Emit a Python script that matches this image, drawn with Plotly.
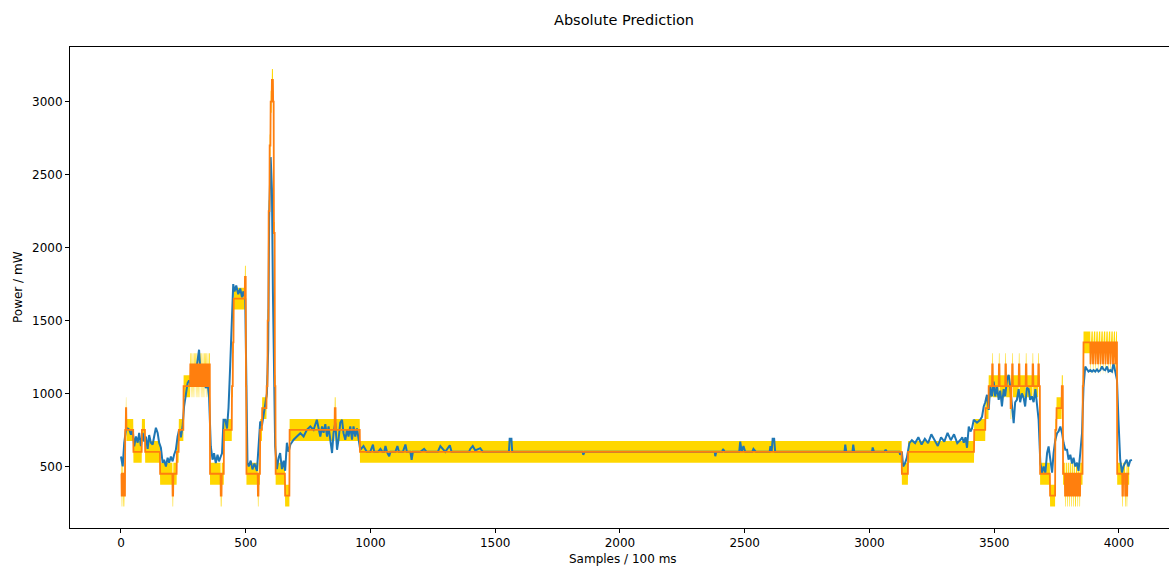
import numpy as np
import plotly.graph_objects as go

# ---------------- data ----------------
# Quantised prediction: run starts (sample index) and level (mW)
PRED_STARTS = [0, 3, 6, 9, 12, 15, 17, 20, 22, 50, 84, 97, 157, 207, 210, 224, 232, 251,
               278, 281, 283, 286, 288, 291, 293, 296, 298, 301, 303, 306, 308, 311, 313, 316,
               318, 321, 323, 326, 328, 331, 333, 336, 338, 341, 343, 346, 348, 351, 353,
               357, 400, 404, 413, 445, 449, 452, 497, 501, 503, 549, 552, 558, 566,
               584, 588, 592, 596, 600, 605, 610, 613, 617, 620, 658, 676, 857, 861, 958,
               3130, 3155, 3420, 3465, 3478,
               3492, 3495, 3519, 3522, 3545, 3548, 3566, 3569, 3572, 3575, 3599, 3602, 3627, 3630,
               3654, 3657, 3677, 3680,
               3684, 3724, 3745, 3750, 3771, 3776,
               3784, 3787, 3792, 3795, 3800, 3803, 3808, 3811, 3816, 3819, 3824, 3828, 3834, 3837,
               3842, 3845, 3855, 3858,
               3886, 3887, 3896, 3897, 3906, 3907, 3916, 3917, 3926, 3927, 3936, 3937, 3946, 3947,
               3956, 3957, 3966, 3967, 3976, 3977, 3985, 3986,
               3993, 4014, 4017, 4025, 4028, 4031, 4034]
PRED_LEVELS = [450, 300, 450, 300, 450, 300, 750, 900, 750, 600, 750, 600, 450, 300, 450, 600, 750, 1050,
               1200, 1050, 1200, 1050, 1200, 1050, 1200, 1050, 1200, 1050, 1200, 1050, 1200, 1050, 1200, 1050,
               1200, 1050, 1200, 1050, 1200, 1050, 1200, 1050, 1200, 1050, 1200, 1050, 1200, 1050, 1200,
               450, 300, 450, 750, 1050, 1350, 1650, 1800, 1050, 450, 300, 450, 750, 900,
               1050, 1500, 2250, 2700, 3000, 3150, 3000, 2100, 1050, 450, 300, 750, 900, 750, 600,
               450, 600, 750, 900, 1050,
               1200, 1050, 1200, 1050, 1200, 1050, 900, 1050, 1200, 1050, 1200, 1050, 1200, 1050,
               1200, 1050, 1200, 1050,
               450, 300, 750, 900, 1050, 450,
               300, 450, 300, 450, 300, 450, 300, 450, 300, 450, 300, 450, 300, 450,
               300, 450, 1050, 1350,
               1200, 1350, 1200, 1350, 1200, 1350, 1200, 1350, 1200, 1350, 1200, 1350, 1200, 1350,
               1200, 1350, 1200, 1350, 1200, 1350, 1200, 1350,
               450, 300, 450, 300, 450, 300, 450]
PRED_END = 4042
BAND_HALF = 75  # mW, half-width of the tolerance band

# Measured power (sample index, mW)
ACTUAL_X = [0, 7, 13, 20, 27, 33, 40, 47, 53, 60, 67, 73, 80, 87, 93, 100, 107, 113, 120, 127,
            133, 140, 147, 153, 160, 167, 173, 180, 187, 193, 200, 207, 213, 220, 227, 233, 240,
            247, 253, 260, 267, 273, 280, 287, 293, 300, 307, 313, 317, 327, 333, 340, 347, 353,
            360, 367, 373, 380, 387, 393, 400, 405, 411, 418, 425, 431, 438, 445, 450, 455, 462,
            470, 478, 485, 491, 498, 503, 507, 512, 520, 527, 535, 545, 552, 558, 565, 572, 578,
            585, 590, 594, 600, 605, 609, 613, 618, 625, 632, 638, 645, 652, 658, 665, 672, 679,
            692, 705, 719, 732, 745, 759, 772, 785, 792, 799, 806, 812, 819, 826, 832, 839, 846,
            852, 859, 866, 872, 879, 886, 892, 899, 906, 912, 919, 926, 932, 939, 946, 952, 959,
            972, 985, 999,
            1010, 1015, 1030, 1040, 1048, 1055, 1060, 1066, 1075, 1080, 1100, 1108, 1114, 1130,
            1140, 1146, 1160, 1165, 1170, 1200, 1215, 1225, 1270, 1280, 1290, 1300, 1318, 1325,
            1395, 1400, 1410, 1420, 1440, 1450, 1555, 1558, 1565, 1568, 1850, 1853, 1858, 2380,
            2382, 2386, 2410, 2413, 2420, 2478, 2482, 2488, 2495, 2502, 2530, 2535, 2545, 2600,
            2603, 2608, 2612, 2618, 2622, 2900, 2903, 2907, 2932, 2935, 2939, 3010, 3013, 3018,
            3060, 3065, 3070, 3120, 3123, 3130, 3135, 3142, 3150, 3160,
            3170, 3183, 3196, 3209, 3222, 3235, 3248, 3261, 3274, 3287, 3300, 3313, 3326, 3339,
            3352, 3365, 3372, 3378, 3385, 3391, 3398, 3405, 3411, 3418,
            3431, 3444, 3451, 3458, 3464, 3471, 3478, 3484, 3491, 3498, 3504, 3511, 3518, 3524,
            3531, 3538, 3544, 3551, 3558, 3564, 3571, 3578, 3584, 3591, 3598, 3604, 3611, 3618,
            3624, 3631, 3638, 3644, 3651, 3658, 3665, 3671, 3678,
            3685, 3692, 3698, 3705, 3712, 3718, 3725, 3732, 3738, 3745, 3752, 3758, 3765, 3772,
            3778, 3785, 3792, 3798, 3805, 3812, 3818, 3825, 3832, 3838, 3845, 3852, 3858, 3865,
            3872, 3878, 3885, 3892, 3898, 3905, 3912, 3918, 3925, 3932, 3938, 3945, 3952, 3958,
            3965, 3972, 3978, 3985, 3992, 3998, 4005, 4012, 4018, 4025, 4031, 4038, 4045, 4052]
ACTUAL_Y = [568, 500, 662, 751, 760, 753, 717, 751, 637, 705, 663, 730, 640, 730, 671, 705, 620, 715, 663, 650,
            705, 765, 730, 663, 628, 525, 545, 500, 560, 525, 568, 535, 580, 614, 705, 750, 700,
            774, 911, 1003, 1071, 1090, 1060, 1071, 1071, 1140, 1231, 1300, 1190, 1071, 1090, 1037, 1071, 980,
            637, 546, 590, 523, 580, 535, 568, 590, 820, 820, 760, 900, 1200, 1600, 1750, 1700, 1740,
            1680, 1720, 1660, 1700, 1650, 900, 525, 500, 540, 480, 520, 470, 637, 808, 780, 850, 900,
            1000, 1300, 2200, 2620, 2400, 1700, 1000, 637, 482, 560, 592, 482, 540, 470, 662, 600, 650,
            683, 705, 728, 705, 751, 774, 751, 820, 751, 705, 774, 730, 790, 705, 774, 660, 592,
            728, 800, 614, 683, 800, 820, 728, 683, 751, 705, 774, 683, 774, 705, 760, 683, 614,
            640, 600, 600,
            650, 600, 600, 620, 600, 600, 640, 600, 570, 600, 600, 640, 600, 600,
            650, 600, 600, 546, 600, 600, 620, 600, 600, 640, 620, 600, 645, 600,
            600, 620, 640, 610, 625, 600, 600, 690, 690, 600, 600, 580, 600, 600,
            570, 600, 600, 620, 600, 600, 670, 600, 640, 600, 600, 620, 600, 600,
            640, 600, 690, 690, 600, 600, 650, 600, 600, 650, 600, 600, 630, 600,
            600, 615, 600, 600, 580, 600, 500, 520, 560, 660,
            680, 660, 700, 650, 690, 660, 720, 680, 640, 700, 670, 730, 680, 720,
            660, 683, 700, 662, 700, 628, 774, 740, 760, 820,
            800, 820, 840, 911, 940, 991, 888, 1048, 980, 1082, 980, 1048, 957, 1020,
            911, 1030, 980, 1094, 1128, 1048, 911, 797, 940, 957, 1030, 940, 1000, 970,
            911, 1040, 1030, 957, 980, 940, 1030, 911, 820,
            520, 457, 500, 457, 592, 637, 546, 457, 592, 683, 728, 740, 774, 728,
            662, 614, 614, 546, 580, 520, 560, 500, 525, 470, 592, 728, 1048, 1185,
            1165, 1150, 1160, 1150, 1160, 1150, 1165, 1150, 1160, 1185, 1165, 1160, 1185, 1150,
            1160, 1150, 1208, 1150, 1094, 820, 546, 457, 500, 525, 546, 500, 540, 545]

X_TICKS = [0, 500, 1000, 1500, 2000, 2500, 3000, 3500, 4000]
Y_TICKS = [500, 1000, 1500, 2000, 2500, 3000]
TITLE = "Absolute Prediction"
X_LABEL = "Samples / 100 ms"
Y_LABEL = "Power / mW"

# ---------------- build series ----------------
starts = np.array(PRED_STARTS)
runs = np.diff(np.append(starts, PRED_END))
pred = np.repeat(np.array(PRED_LEVELS, dtype=float), runs)
xs = np.arange(len(pred))

fig = go.Figure()
fig.add_trace(go.Scatter(x=xs, y=pred - BAND_HALF, mode="lines",
                         line=dict(width=0, color="gold"), hoverinfo="skip", showlegend=False))
fig.add_trace(go.Scatter(x=xs, y=pred + BAND_HALF, mode="lines", fill="tonexty",
                         fillcolor="#FFD700", line=dict(width=0, color="gold"),
                         hoverinfo="skip", showlegend=False))
fig.add_trace(go.Scatter(x=ACTUAL_X, y=ACTUAL_Y, mode="lines",
                         line=dict(color="#1f77b4", width=2), showlegend=False))
fig.add_trace(go.Scatter(x=xs, y=pred, mode="lines",
                         line=dict(color="#ff7f0e", width=1.8), showlegend=False))

W, H = 1169, 567
L, R, T, B = 70, 0, 47, 39
pw, ph = W - L - R, H - T - B


def px2paper(px, py):
    return (px - L) / pw, (H - B - py) / ph


font = dict(family="DejaVu Sans", size=12, color="black")
tx, ty = px2paper(624, 20)
lx, ly = px2paper(623, 559)
yx, yy = px2paper(18, 287)

fig.update_layout(
    width=W, height=H,
    margin=dict(l=L, r=R, t=T, b=B),
    paper_bgcolor="white", plot_bgcolor="white",
    font=font,
    showlegend=False,
    annotations=[
        dict(text=TITLE, x=tx, y=ty, xref="paper", yref="paper", showarrow=False,
             xanchor="center", yanchor="middle",
             font=dict(family="DejaVu Sans", size=14.5, color="black")),
        dict(text=X_LABEL, x=lx, y=ly, xref="paper", yref="paper", showarrow=False,
             xanchor="center", yanchor="middle", font=font),
        dict(text=Y_LABEL, x=yx, y=yy, xref="paper", yref="paper", showarrow=False,
             xanchor="center", yanchor="middle", textangle=-90, font=font),
    ],
)

fig.update_xaxes(range=[-204.3, 4200.6], tickvals=X_TICKS, ticks="outside", ticklen=4,
                 tickcolor="black", showline=True, linecolor="black", linewidth=1,
                 mirror=True, showgrid=False, zeroline=False, tickfont=font)
fig.update_yaxes(range=[78, 3375], tickvals=Y_TICKS, ticks="outside", ticklen=4,
                 tickcolor="black", showline=True, linecolor="black", linewidth=1,
                 mirror=False, showgrid=False, zeroline=False, tickfont=font)

fig.write_html("out.html", config={"displayModeBar": False},
               post_script="document.body.style.margin='0';document.body.style.overflow='hidden';")
